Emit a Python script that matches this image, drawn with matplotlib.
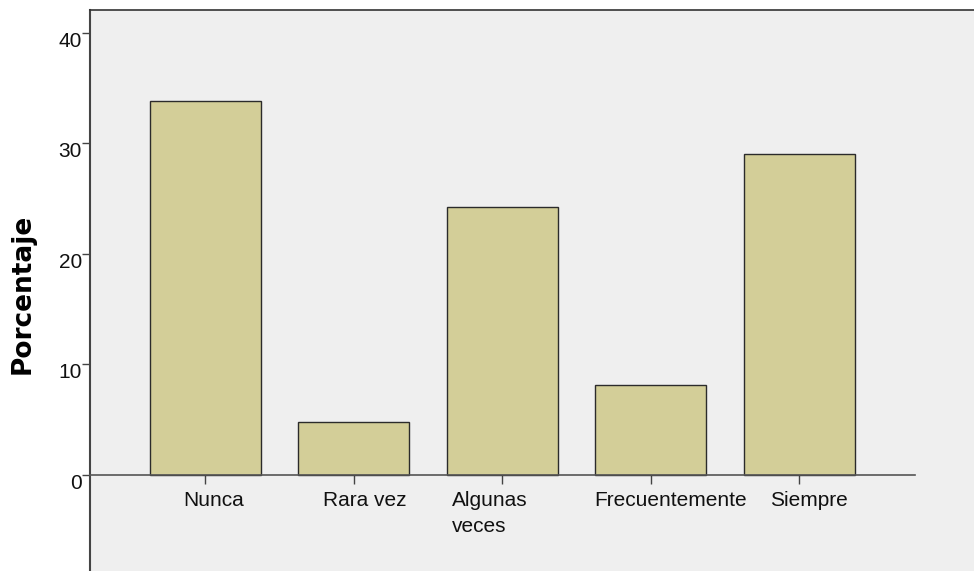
import textwrap
import matplotlib
matplotlib.use("Agg")
import matplotlib.pyplot as plt
from matplotlib.transforms import ScaledTranslation

categories = ["Nunca", "Rara vez", "Algunas veces", "Frecuentemente", "Siempre"]
values = [33.8, 4.8, 24.2, 8.1, 29.0]
yticks = [0, 10, 20, 30, 40]
ylabel = "Porcentaje"

BG = "#EFEFEF"
BAR = "#D3CE98"
EDGE = "#2B2B2B"
FONT = "Liberation Sans"
TXT = "#111111"

fig = plt.figure(figsize=(9.74, 5.71), dpi=100)
fig.patch.set_facecolor("white")
ax = fig.add_axes([90 / 974, 0, 884 / 974, 561 / 571])
ax.set_facecolor(BG)

x = list(range(len(categories)))
ax.bar(x, values, width=0.75, color=BAR, edgecolor=EDGE, linewidth=1.0, zorder=3)

xl = -0.776
ax.set_xlim(xl, len(categories) - 1 + 1.177)
ax.set_ylim(-8.72, 42.05)

# spines
ax.spines["right"].set_visible(False)
ax.spines["top"].set_color("#333333")
ax.spines["top"].set_linewidth(1.2)
ax.spines["left"].set_color("#444444")
ax.spines["left"].set_linewidth(1.5)
ax.spines["bottom"].set_position(("data", 0))
ax.spines["bottom"].set_bounds(xl, len(categories) - 1 + 0.78)
ax.spines["bottom"].set_color("#555555")
ax.spines["bottom"].set_linewidth(1.2)
ax.spines["bottom"].set_zorder(4)

# y ticks
ax.set_yticks(yticks)
ax.set_yticklabels([str(v) for v in yticks], fontsize=15, family=FONT, color=TXT)
ax.tick_params(axis="y", direction="out", length=5.8, width=1.0, color="#444444", pad=0)
yoff = ScaledTranslation(0, -6.5 / 100, fig.dpi_scale_trans)
for lab in ax.get_yticklabels():
    lab.set_transform(lab.get_transform() + yoff)

# x ticks
ax.set_xticks(x)
ax.set_xticklabels([])
ax.tick_params(axis="x", direction="out", length=6.5, width=1.0, color="#444444")

# x labels
fig.canvas.draw()
r = fig.canvas.get_renderer()
for i, lab in enumerate(categories):
    tmp = ax.text(0, 0, lab, fontsize=15, family=FONT)
    w = tmp.get_window_extent(r).width
    tmp.remove()
    off = ScaledTranslation(-0.37 * w / 100, -16 / 100, fig.dpi_scale_trans)
    ax.text(i, 0, textwrap.fill(lab, 12, break_long_words=False), ha="left", va="top",
            fontsize=15, family=FONT, color=TXT, linespacing=1.5,
            transform=ax.transData + off)

fig.text(23 / 974, 1 - 294 / 571, ylabel, rotation=90, ha="center", va="center",
         fontsize=19, fontweight="bold", family="DejaVu Sans", color="black")

fig.savefig("out.png", dpi=100, facecolor=fig.get_facecolor())
